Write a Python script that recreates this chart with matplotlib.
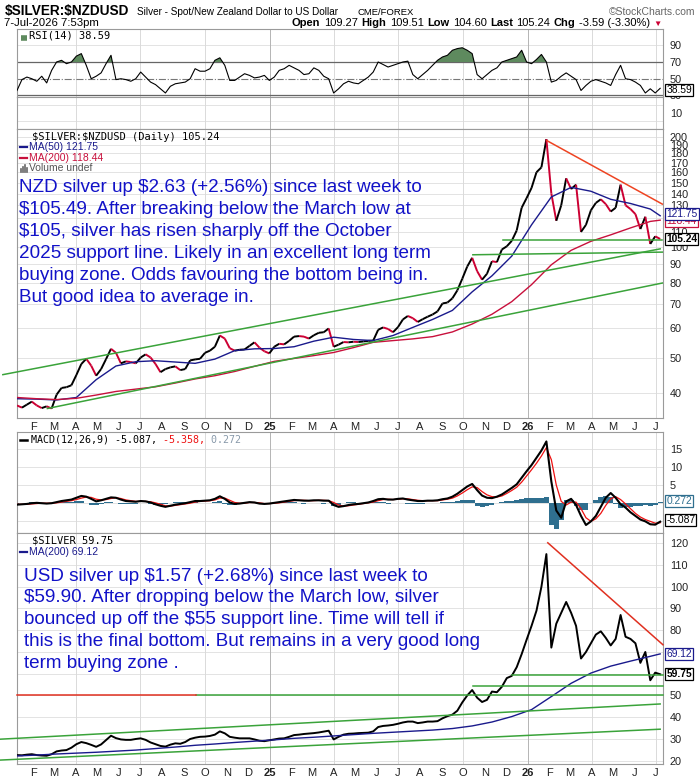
import numpy as np
import pandas as pd
import matplotlib
matplotlib.use("Agg")
import matplotlib.pyplot as plt
import matplotlib.dates as mdates
from matplotlib.collections import LineCollection
from matplotlib.transforms import blended_transform_factory
from matplotlib.ticker import NullLocator

plt.rcParams["text.parse_math"] = False

W, H = 700, 780

# weekly samples, 2024-01-09 .. 2026-07-07
weeks = pd.date_range("2024-01-09", periods=131, freq="7D")
ma_weeks = weeks[list(range(0, 129, 4)) + [130]]

nzd_close = [37.0, 36.5, 37.2, 37.9, 37.0, 36.4, 36.8, 36.3, 39.6, 41.3,
             41.5, 42.0, 44.8, 48.0, 49.6, 47.5, 44.6, 46.5, 49.5, 52.8,
             51.5, 48.2, 48.8, 48.6, 48.2, 50.0, 51.0, 50.0, 48.0, 45.6,
             46.5, 47.0, 47.3, 46.2, 46.5, 49.1, 49.4, 49.6, 51.5, 52.2,
             53.5, 57.4, 56.3, 53.0, 52.2, 52.5, 52.6, 53.8, 55.0, 53.2,
             52.0, 51.3, 53.5, 54.5, 54.3, 55.5, 57.0, 57.2, 57.0, 56.3,
             57.5, 58.4, 58.6, 60.0, 53.5, 54.2, 55.1, 55.0, 55.2, 55.1,
             55.3, 55.5, 55.6, 59.5, 60.4, 59.8, 58.6, 60.5, 63.5, 64.9,
             64.0, 62.5, 63.6, 64.6, 65.5, 66.8, 70.2, 70.6, 72.5, 76.2,
             82.0, 88.5, 93.5, 86.0, 81.5, 84.6, 91.5, 91.0, 98.5, 100.5,
             104.0, 111.0, 128.0, 136.0, 145.0, 160.0, 165.0, 197.0, 140.0, 118.0,
             130.0, 154.0, 144.0, 148.0, 110.0, 115.0, 126.0, 132.0, 135.0, 131.0,
             125.0, 128.0, 148.0, 130.0, 127.0, 123.0, 112.0, 121.0, 102.0, 107.0,
             105.24]

usd_close = [22.6, 22.5, 22.8, 23.0, 22.6, 22.4, 22.3, 23.0, 24.3, 24.7,
             24.9, 26.0, 27.6, 28.6, 28.1, 27.3, 26.4, 27.5, 29.5, 31.5,
             30.4, 29.8, 29.6, 29.6, 30.0, 30.3, 29.6, 28.4, 27.6, 26.8,
             26.5, 27.4, 28.0, 27.8, 28.6, 30.0, 30.6, 31.0, 31.1, 31.4,
             32.0, 33.5, 32.6, 31.0, 30.6, 30.3, 30.3, 30.3, 29.8, 29.2,
             29.0, 29.4, 29.8, 30.2, 30.3, 31.0, 31.8, 32.0, 32.3, 32.5,
             32.7, 33.0, 33.4, 33.8, 29.8, 31.0, 32.0, 32.4, 32.5, 32.7,
             32.8, 32.9, 33.5, 35.5, 36.0, 36.2, 36.5, 37.0, 37.6, 38.0,
             38.0, 37.3, 37.6, 38.0, 38.0, 38.2, 39.5, 40.5, 41.2, 43.0,
             46.8, 50.0, 52.5, 49.0, 47.0, 48.0, 51.8, 51.5, 54.0, 58.0,
             59.0, 63.0, 69.0, 75.6, 82.0, 89.0, 100.0, 115.0, 72.0, 83.0,
             88.0, 93.0, 88.0, 82.0, 67.0, 70.0, 74.0, 78.0, 79.5, 76.5,
             73.0, 76.0, 87.0, 77.0, 76.0, 74.0, 65.0, 70.0, 57.0, 60.5,
             59.75]

rsi14 = [36, 49, 52, 50, 47, 53, 45, 60, 70, 72,
         68, 70, 77, 80, 66, 50, 53, 57, 68, 78,
         49, 50, 49, 47, 50, 58, 52, 46, 43, 38,
         33, 41, 44, 45, 46, 50, 62, 59, 59, 62,
         72, 75, 66, 48, 48, 52, 56, 54, 51, 52,
         54, 48, 52, 60, 62, 66, 63, 60, 55, 56,
         63, 60, 53, 50, 33, 38, 44, 47, 45, 44,
         48, 52, 58, 70, 67, 64, 66, 68, 70, 71,
         55, 50, 55, 60, 66, 72, 76, 78, 84, 86,
         87, 84, 80, 55, 50, 55, 60, 63, 70, 72,
         74, 76, 84, 70, 68, 73, 79, 70, 46, 48,
         53, 57, 53, 49, 36, 42, 47, 49, 47, 45,
         42, 55, 66, 50, 49, 46, 42, 33, 38, 33,
         38.59]

macd_line = [-0.4, -0.3, -0.2, 0.0, 0.1, 0.0, -0.1, 0.0, 0.3, 0.6,
             0.8, 1.0, 1.5, 2.0, 1.8, 1.2, 0.5, 0.8, 1.2, 1.6,
             1.5, 1.0, 0.6, 0.5, 0.4, 0.6, 0.5, 0.2, -0.3, -0.7,
             -1.0, -0.7, -0.4, -0.2, 0.0, 0.3, 0.6, 0.6, 0.7, 0.8,
             1.2, 1.9, 1.2, 0.2, -0.2, -0.1, 0.1, 0.3, 0.2, -0.1,
             -0.2, -0.1, 0.1, 0.3, 0.5, 0.7, 0.9, 0.8, 0.7, 0.7,
             0.8, 0.8, 0.7, 0.7, -0.5, -1.0, -0.8, -0.5, -0.3, -0.2,
             0.0, 0.2, 0.6, 1.1, 1.2, 1.0, 1.0, 1.2, 1.3, 1.0,
             0.8, 0.6, 0.6, 0.7, 0.7, 0.8, 1.1, 1.3, 1.8, 2.6,
             3.6, 4.6, 5.3, 3.6, 2.1, 1.5, 1.4, 1.8, 2.4, 3.3,
             4.2, 5.2, 7.0, 8.8, 10.5, 12.5, 14.5, 17.0, 6.0, -2.0,
             -4.0, 0.5, 1.2, -0.5, -3.5, -6.0, -5.0, -3.5, -1.0, 1.5,
             2.8, 1.5, -0.3, -1.2, -2.5, -3.5, -4.5, -5.0, -5.8, -5.9,
             -5.087]

macd_signal = [-0.3, -0.3, -0.3, -0.2, -0.1, 0.0, 0.0, 0.0, 0.1, 0.3,
               0.5, 0.7, 1.0, 1.4, 1.7, 1.6, 1.1, 0.9, 1.0, 1.3,
               1.5, 1.3, 0.9, 0.7, 0.5, 0.5, 0.5, 0.4, 0.1, -0.3,
               -0.7, -0.8, -0.6, -0.4, -0.2, 0.0, 0.3, 0.5, 0.6, 0.7,
               0.9, 1.4, 1.4, 0.8, 0.2, 0.0, 0.0, 0.2, 0.2, 0.1,
               -0.1, -0.1, 0.0, 0.1, 0.3, 0.5, 0.7, 0.8, 0.8, 0.7,
               0.7, 0.8, 0.8, 0.7, 0.2, -0.5, -0.8, -0.7, -0.5, -0.3,
               -0.1, 0.1, 0.3, 0.7, 1.0, 1.1, 1.0, 1.1, 1.2, 1.2,
               1.0, 0.8, 0.7, 0.7, 0.7, 0.7, 0.9, 1.1, 1.4, 2.0,
               2.8, 3.7, 4.5, 4.3, 3.2, 2.3, 1.8, 1.7, 2.0, 2.7,
               3.5, 4.4, 5.8, 7.5, 9.2, 11.0, 13.0, 15.3, 12.0, 5.0,
               0.5, -0.5, 0.3, 0.3, -1.5, -4.0, -5.0, -4.3, -2.8, -0.6,
               1.2, 1.8, 1.0, -0.2, -1.5, -2.8, -3.8, -4.5, -5.0, -5.5,
               -5.358]

# moving averages, every 4th week
nzd_ma50 = [38.6, 38.5, 38.3, 38.9, 43.5, 47.4, 48.7, 49.0, 48.6, 48.2,
            49.5, 52.2, 52.8, 52.9, 53.5, 55.4, 56.8, 56.0, 55.6, 57.4,
            60.4, 63.5, 67.2, 75.5, 83.5, 94.5, 115.0, 137.0, 145.5, 142.0,
            135.0, 131.5, 127.0, 121.75]
nzd_ma200 = [38.9, 38.6, 38.4, 38.7, 39.5, 40.4, 41.0, 41.6, 42.6, 43.7,
             44.6, 45.8, 47.3, 48.8, 49.7, 50.6, 51.6, 53.2, 55.0, 55.6,
             56.2, 57.0, 58.7, 61.7, 65.6, 71.0, 79.0, 89.5, 98.0, 103.7,
             108.0, 112.8, 117.5, 118.44]
usd_ma200 = [22.2, 22.6, 23.1, 23.5, 23.9, 24.4, 24.9, 25.6, 26.3, 27.1,
             27.7, 28.4, 29.0, 29.6, 30.3, 30.8, 31.4, 32.0, 32.6, 33.1,
             33.6, 34.1, 34.8, 36.0, 37.8, 40.3, 43.5, 49.5, 55.6, 60.3,
             63.5, 65.8, 68.0, 69.12]

# drawn trend lines: start date, start value, end date, end value
nzd_green = [("2023-12-20", 44.9, "2026-07-07", 98.9),
             ("2024-02-21", 36.3, "2026-07-10", 79.8),
             ("2025-10-15", 95.3, "2026-07-10", 96.9),
             ("2025-11-26", 104.7, "2026-07-10", 104.7)]
nzd_red = [("2026-01-28", 195.0, "2026-07-10", 131.0)]
usd_green = [("2023-12-16", 29.9, "2026-07-07", 46.1),
             ("2023-12-16", 20.3, "2026-07-07", 34.5),
             ("2024-09-18", 50.0, "2026-07-11", 50.0),
             ("2025-10-15", 54.4, "2026-07-11", 54.4),
             ("2025-12-10", 59.5, "2026-07-11", 59.5)]
usd_red = [("2024-01-09", 50.0, "2024-09-18", 50.0),
           ("2026-01-29", 120.2, "2026-07-11", 73.3)]

month_dates = pd.date_range("2024-02-01", "2026-07-01", freq="MS")
month_labels = ("F M A M J J A S O N D 25 F M A M J J A S O N D 26 "
                "F M A M J J").split()

nzd_note = ["NZD silver up $2.63 (+2.56%) since last week to",
            "$105.49. After breaking below the March low at",
            "$105, silver has risen sharply off the October",
            "2025 support line. Likely in an excellent long term",
            "buying zone. Odds favouring the bottom being in.",
            "But good idea to average in."]
usd_note = ["USD silver up $1.57 (+2.68%) since last week to",
            "$59.90. After dropping below the March low, silver",
            "bounced up off the $55 support line. Time will tell if",
            "this is the final bottom. But remains in a very good long",
            "term buying zone ."]

MONO = "DejaVu Sans Mono"
SANS = "Liberation Sans"
NOTE_BLUE = "#1212c8"
GREEN = "#3aa33a"
NAVY = "#1a1a8c"
CRIMSON = "#c8103c"

fig = plt.figure(figsize=(7, 7.8), dpi=100)
fig.patch.set_facecolor("white")
L, R = 17, 663
x0, x1 = pd.Timestamp("2024-01-09"), pd.Timestamp("2026-07-11")


def panel(top, bottom):
    return fig.add_axes([L / W, 1 - bottom / H, (R - L) / W, (bottom - top) / H])


def style(ax, grid, ticks, labels):
    ax.set_xlim(x0, x1)
    ax.set_facecolor("white")
    for s in ax.spines.values():
        s.set_color("#9a9a9a")
        s.set_linewidth(0.8)
    for g in grid:
        ax.axhline(g, color="#dedede", lw=0.6, zorder=0)
    for q in pd.date_range("2024-04-01", "2026-07-01", freq="QS"):
        c = "#b4b4b4" if q.month == 1 else "#dadada"
        ax.axvline(q, color=c, lw=0.7, zorder=0)
    ax.yaxis.tick_right()
    ax.set_yticks(ticks, labels)
    ax.yaxis.set_minor_locator(NullLocator())
    ax.tick_params(axis="y", length=0, labelsize=7.8, pad=5, colors="#222222")
    for t in ax.get_yticklabels():
        t.set_family(SANS)
    ax.set_xticks(month_dates, [""] * len(month_dates))
    ax.tick_params(axis="x", length=0)


def months(ax):
    ax.set_xticks(month_dates, month_labels)
    ax.tick_params(axis="x", labelsize=8, pad=3, colors="#222222")
    for t in ax.get_xticklabels():
        t.set_family(SANS)
        if t.get_text() in ("25", "26"):
            t.set_fontweight("bold")


def tag(ax, y, s, ec, tc, bold=False):
    tr = blended_transform_factory(ax.transAxes, ax.transData)
    ax.text(1.005, y, s, transform=tr, va="center", ha="left", fontsize=7.4,
            family=SANS, color=tc, fontweight="bold" if bold else "normal",
            bbox=dict(boxstyle="square,pad=0.1", fc="white", ec=ec, lw=0.9),
            clip_on=False, zorder=10)


def trend(ax, lines, color, lw=1.1):
    for d0, v0, d1, v1 in lines:
        ax.plot([pd.Timestamp(d0), pd.Timestamp(d1)], [v0, v1], color=color,
                lw=lw, clip_on=False, zorder=4)


xs = mdates.date2num(weeks)

# RSI
ax_rsi = panel(29, 97)
ax_rsi.set_ylim(28.2, 109.4)
style(ax_rsi, [90], [30, 50, 70, 90], ["30", "50", "70", "90"])
r = np.array(rsi14, dtype=float)
ax_rsi.fill_between(weeks, 70, r, where=r > 70, interpolate=True,
                    color="#5e8a5e", lw=0, zorder=2)
ax_rsi.axhline(70, color="#666666", lw=0.9, zorder=1)
ax_rsi.axhline(30, color="#666666", lw=0.9, zorder=1)
ax_rsi.axhline(50, color="#777777", lw=0.8, ls="-.", zorder=1)
ax_rsi.plot(weeks, r, color="black", lw=0.8, zorder=3)
tag(ax_rsi, 36.5, "38.59", "black", "black")

# empty volume strip
ax_vol = panel(97, 129)
ax_vol.set_ylim(0, 20)
style(ax_vol, [5, 15], [10], ["10"])

# NZD price panel
ax_p = panel(129, 418)
ax_p.set_yscale("log")
ax_p.set_ylim(34.2, 209.9)
p_ticks = [40, 50, 60, 70, 80, 90, 100, 110, 130, 140, 150, 160, 170, 180, 190, 200]
style(ax_p, p_ticks + [120], p_ticks, [str(t) for t in p_ticks])
ax_p.yaxis.set_minor_locator(NullLocator())
pc = np.array(nzd_close)
segs = np.stack([np.column_stack([xs[:-1], pc[:-1]]),
                 np.column_stack([xs[1:], pc[1:]])], axis=1)
cols = ["black" if b >= a else "#cc0033" for a, b in zip(pc[:-1], pc[1:])]
ax_p.add_collection(LineCollection(segs, colors=cols, linewidths=1.4, zorder=3))
ax_p.plot(ma_weeks, nzd_ma50, color=NAVY, lw=1.0, zorder=3)
ax_p.plot(ma_weeks, nzd_ma200, color=CRIMSON, lw=1.0, zorder=3)
trend(ax_p, nzd_green, GREEN)
trend(ax_p, nzd_red, "#ee4422")
months(ax_p)
tag(ax_p, 117.8, "118.44", CRIMSON, CRIMSON)
tag(ax_p, 123.0, "121.75", NAVY, NAVY)
tag(ax_p, 105.24, "105.24", "black", "black", bold=True)

# MACD
ax_m = panel(432, 533)
ax_m.set_ylim(-8.2, 19.6)
style(ax_m, [-5, 0, 5, 10, 15], [5, 10, 15], ["5", "10", "15"])
hist = np.array(macd_line) - np.array(macd_signal)
ax_m.bar(weeks, hist, width=7, color="#2f6f8f", lw=0, zorder=2)
ax_m.plot(weeks, macd_signal, color="#ee1111", lw=0.9, zorder=3)
ax_m.plot(weeks, macd_line, color="black", lw=1.5, zorder=4)
tag(ax_m, 0.7, "0.272", "#2f6f8f", "#2f6f8f")
tag(ax_m, -4.6, "-5.087", "black", "black")

# USD panel
ax_u = panel(533, 764)
ax_u.set_ylim(18.5, 124.7)
u_ticks = [20, 30, 40, 50, 80, 90, 100, 110, 120]
style(ax_u, u_ticks + [60, 70], u_ticks, [str(t) for t in u_ticks])
ax_u.plot(weeks, usd_close, color="black", lw=1.4, zorder=3)
ax_u.plot(ma_weeks, usd_ma200, color=NAVY, lw=1.0, zorder=3)
trend(ax_u, usd_green, GREEN)
trend(ax_u, usd_red, "#e03020")
months(ax_u)
tag(ax_u, 69.12, "69.12", NAVY, NAVY)
tag(ax_u, 59.75, "59.75", "black", "black", bold=True)

# overlay in pixel coordinates for the header and legends
ov = fig.add_axes([0, 0, 1, 1])
ov.set_xlim(0, W)
ov.set_ylim(H, 0)
ov.axis("off")

ov.text(5, 15, "$SILVER:$NZDUSD", fontsize=9.8, fontweight="bold",
        family=SANS, va="baseline")
ov.text(137, 15, "Silver - Spot/New Zealand Dollar to US Dollar", fontsize=7.2,
        family=SANS, va="baseline")
ov.text(357, 15, "CME/FOREX", fontsize=6.8, family=SANS, va="baseline")
ov.text(695, 15, "\u00a9StockCharts.com", fontsize=7.5, family=SANS,
        color="#666666", ha="right", va="baseline")
ov.text(4, 26, "7-Jul-2026 7:53pm", fontsize=8.2, family=SANS, va="baseline")

pieces = [("109.27", False, "black"),
          ("High", True, "black"), ("109.51", False, "black"),
          ("Low", True, "black"), ("104.60", False, "black"),
          ("Last", True, "black"), ("105.24", False, "black"),
          ("Chg", True, "black"), ("-3.59 (-3.30%)", False, "black"),
          ("\u25bc", False, "#cc0033")]
prev = ov.text(292, 26, "Open", fontsize=8, fontweight="bold",
               family=SANS, va="baseline")
for s, b, c in pieces:
    prev = ov.annotate(s, xy=(1, 0), xycoords=prev, xytext=(2.5, 0),
                       textcoords="offset points", va="bottom",
                       fontsize=8 if s != "\u25bc" else 6,
                       fontweight="bold" if b else "normal",
                       family=[SANS, "DejaVu Sans"], color=c)

# RSI legend
ov.plot([21, 27], [38, 38], color="#5e8a5e", lw=4, solid_capstyle="butt")
ov.text(29, 35, "RSI(14) 38.59", fontsize=7.5, family=MONO, va="center")

# price legend
ov.text(32, 136.5, "$SILVER:$NZDUSD (Daily) 105.24", fontsize=7.5, family=MONO,
        va="center")
ov.plot([20, 27], [147.3, 147.3], color=NAVY, lw=1.6)
ov.text(29, 147.3, "MA(50) 121.75", fontsize=7.5, family=SANS, color=NAVY, va="center")
ov.plot([20, 27], [158.3, 158.3], color=CRIMSON, lw=1.6)
ov.text(29, 158.3, "MA(200) 118.44", fontsize=7.5, family=SANS, color=CRIMSON,
        va="center")
ov.text(29, 168.3, "Volume undef", fontsize=7.5, family=SANS, color="#555555",
        va="center")
for k, hgt in enumerate([3, 5, 7, 4]):
    ov.plot([20.5 + 2 * k] * 2, [172, 172 - hgt], color="#666666", lw=1.2)

for k, line in enumerate(nzd_note):
    ov.text(19, 191.7 + 22.1 * k, line, fontsize=13.6, family=SANS,
            color=NOTE_BLUE, va="baseline")

# MACD legend
ov.plot([20, 27], [440, 440], color="black", lw=1.8)
t = ov.text(31, 440, "MACD(12,26,9) -5.087,", fontsize=7.2, family=MONO, va="center")
t = ov.annotate(" -5.358,", xy=(1, 0.5), xycoords=t, va="center", fontsize=7.2,
                family=MONO, color="#ee1111")
ov.annotate(" 0.272", xy=(1, 0.5), xycoords=t, va="center", fontsize=7.2,
            family=MONO, color="#8899aa")

# USD legend
ov.text(32, 540.7, "$SILVER 59.75", fontsize=7.5, family=MONO, va="center")
ov.plot([20, 27], [551.7, 551.7], color=NAVY, lw=1.6)
ov.text(29, 551.7, "MA(200) 69.12", fontsize=7.5, family=SANS, color=NAVY,
        va="center")
for k, line in enumerate(usd_note):
    ov.text(24, 580.7 + 21.7 * k, line, fontsize=13.6, family=SANS,
            color=NOTE_BLUE, va="baseline")

fig.savefig("out.png", dpi=100, facecolor="white")
